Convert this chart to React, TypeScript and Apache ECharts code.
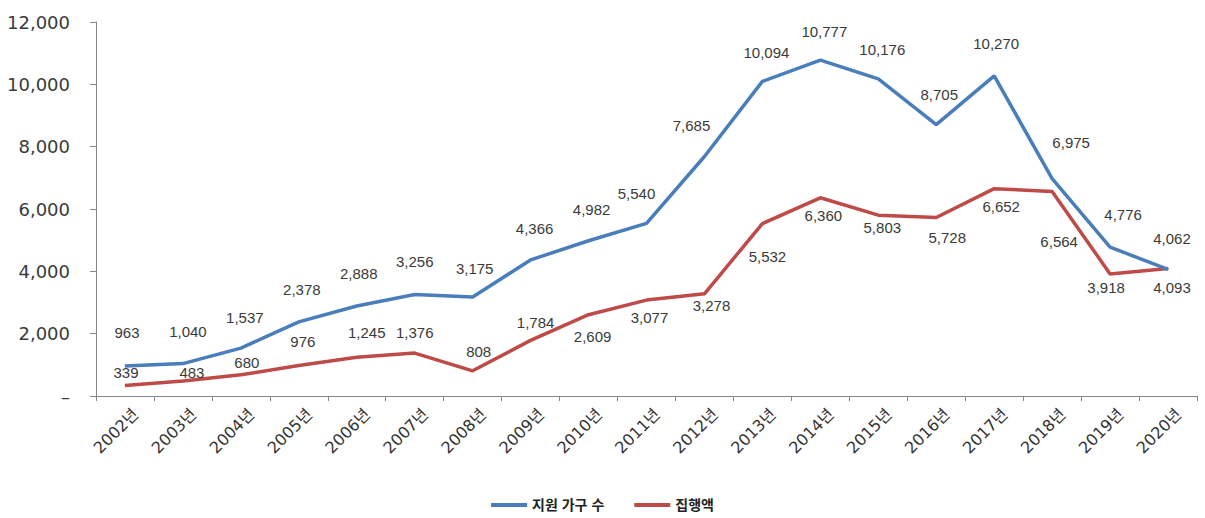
import React, { useEffect, useRef } from "react";
import * as echarts from "echarts";

const years = [
  "2002년", "2003년", "2004년", "2005년", "2006년", "2007년", "2008년", "2009년", "2010년", "2011년",
  "2012년", "2013년", "2014년", "2015년", "2016년", "2017년", "2018년", "2019년", "2020년",
];
const households = [963, 1040, 1537, 2378, 2888, 3256, 3175, 4366, 4982, 5540, 7685, 10094, 10777, 10176, 8705, 10270, 6975, 4776, 4062];
const amounts = [339, 483, 680, 976, 1245, 1376, 808, 1784, 2609, 3077, 3278, 5532, 6360, 5803, 5728, 6652, 6564, 3918, 4093];
const yTicks = [0, 2000, 4000, 6000, 8000, 10000, 12000];

// label placement relative to each point (presentation only)
const householdLabelOffsets: [number, number][] = [
  [2, -33], [5, -32], [4, -31], [3, -32], [2, -32], [0, -33], [2, -29], [4, -31], [3, -31], [-10, -30],
  [-13, -31], [4, -29], [4, -29], [4, -29], [3, -30], [2, -32], [19, -36], [13, -33], [4, -31],
];
const amountLabelOffsets: [number, number][] = [
  [1, -13], [9, -8], [6, -12], [4, -24], [10, -25], [0, -21], [6, -19], [5, -18], [4, 22], [3, 17],
  [7, 12], [5, 33], [3, 18], [4, 12], [11, 20], [7, 18], [7, 50], [-4, 14], [4, 19],
];

const BLUE = "#4A7EBB";
const RED = "#BE4B48";
const FONT = "'Liberation Sans', 'Noto Sans CJK KR', Arial, sans-serif";
const AXIS_FONT = "'DejaVu Sans', 'Noto Sans CJK KR', sans-serif";

const fmt = (v: number) => v.toLocaleString("en-US");

export default function App() {
  const ref = useRef<HTMLDivElement>(null);
  useEffect(() => {
    if (!ref.current) return;
    const chart = echarts.init(ref.current, undefined, { renderer: "svg" });
    const mk = (vals: number[], offs: [number, number][]) =>
      vals.map((v, i) => ({ value: v, label: { offset: offs[i] } }));
    const labelStyle = {
      show: true,
      position: "inside" as const,
      color: "#3a3a3a",
      fontSize: 15,
      fontFamily: FONT,
      formatter: (p: any) => fmt(p.value),
    };
    chart.setOption({
      animation: false,
      grid: { left: 96, right: 8, top: 22, bottom: 122, containLabel: false },
      legend: {
        bottom: 1,
        left: "center",
        icon: "rect",
        itemWidth: 36,
        itemHeight: 4,
        itemGap: 30,
        textStyle: { fontSize: 14, fontWeight: "bold", color: "#222", fontFamily: FONT },
        data: ["지원 가구 수", "집행액"],
      },
      xAxis: {
        type: "category",
        data: years,
        boundaryGap: true,
        axisLine: { lineStyle: { color: "#868686", width: 1 } },
        axisTick: { show: true, alignWithLabel: false, length: 5, lineStyle: { color: "#868686" } },
        axisLabel: {
          rotate: 45,
          fontSize: 16,
          color: "#333",
          fontFamily: AXIS_FONT,
          margin: 26,
          padding: [0, -15, 0, 0],
          interval: 0,
        },
        splitLine: { show: false },
      },
      yAxis: {
        type: "value",
        min: yTicks[0],
        max: yTicks[yTicks.length - 1],
        interval: 2000,
        axisLine: { show: true, lineStyle: { color: "#868686", width: 1 } },
        axisTick: { show: true, length: 6, lineStyle: { color: "#868686" } },
        splitLine: { show: false },
        axisLabel: {
          fontSize: 18,
          color: "#3a3a3a",
          fontFamily: AXIS_FONT,
          margin: 26,
          formatter: (v: number) => (v === 0 ? "–" : fmt(v)),
        },
      },
      series: [
        {
          name: "지원 가구 수",
          type: "line",
          data: mk(households, householdLabelOffsets),
          symbol: "circle",
          symbolSize: 1,
          itemStyle: { color: BLUE },
          lineStyle: { color: BLUE, width: 3.5 },
          label: labelStyle,
          z: 3,
        },
        {
          name: "집행액",
          type: "line",
          data: mk(amounts, amountLabelOffsets),
          symbol: "circle",
          symbolSize: 1,
          itemStyle: { color: RED },
          lineStyle: { color: RED, width: 3.5 },
          label: labelStyle,
          z: 2,
        },
      ],
    });
    return () => chart.dispose();
  }, []);
  return (
    <div
      ref={ref}
      style={{ position: "fixed", left: 0, top: 0, width: 1205, height: 518, background: "#fff" }}
    />
  );
}
